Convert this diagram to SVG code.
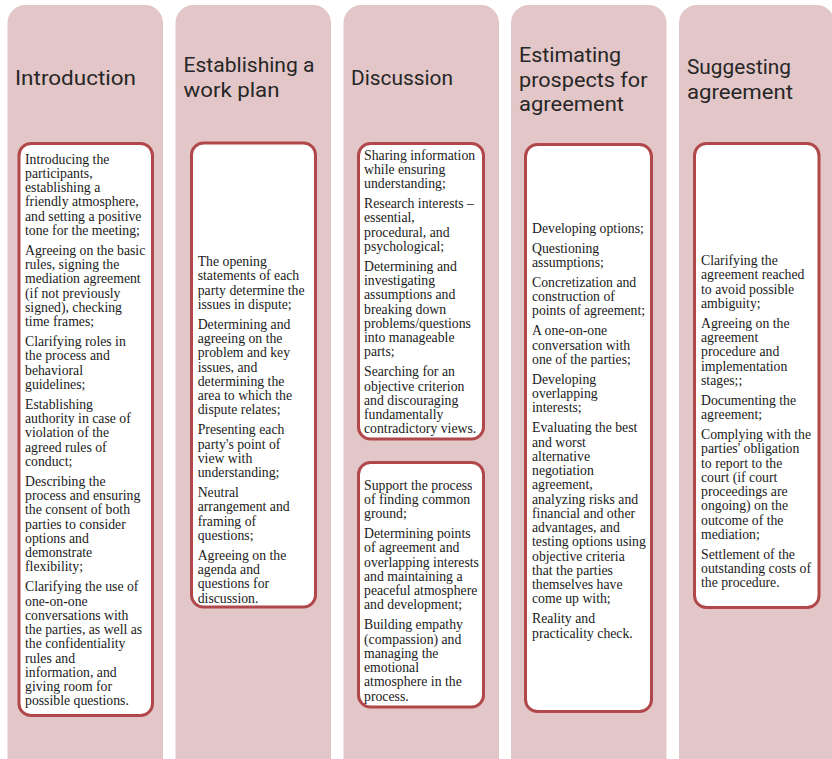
<svg xmlns="http://www.w3.org/2000/svg" width="832" height="759" viewBox="0 0 832 759">
<style>
.col{fill:#E3C6C7;}
.box{fill:#FFFFFF;stroke:#B0484B;stroke-width:3;}
.title{font-family:Roboto,"Liberation Sans",sans-serif;font-size:20.5px;fill:#262626;}
.body{font-family:"Liberation Serif","Times New Roman",serif;font-size:13.75px;fill:#1a1a1a;}
</style>
<rect x="0" y="0" width="832" height="759" fill="#FFFFFF"/>
<g id="col-introduction">
<rect class="col" x="7.5" y="5" width="155.5" height="775" rx="18"/>
<text class="title" x="15" y="85" textLength="121" lengthAdjust="spacingAndGlyphs">Introduction</text>
<rect class="box" x="19" y="143.5" width="133.5" height="572" rx="12"/>
<text class="body" x="25" y="163.5"><tspan x="25" dy="0">Introducing the</tspan><tspan x="25" dy="14.25">participants,</tspan><tspan x="25" dy="14.25">establishing a</tspan><tspan x="25" dy="14.25">friendly atmosphere,</tspan><tspan x="25" dy="14.25">and setting a positive</tspan><tspan x="25" dy="14.25">tone for the meeting;</tspan><tspan x="25" dy="20">Agreeing on the basic</tspan><tspan x="25" dy="14.25">rules, signing the</tspan><tspan x="25" dy="14.25">mediation agreement</tspan><tspan x="25" dy="14.25">(if not previously</tspan><tspan x="25" dy="14.25">signed), checking</tspan><tspan x="25" dy="14.25">time frames;</tspan><tspan x="25" dy="20">Clarifying roles in</tspan><tspan x="25" dy="14.25">the process and</tspan><tspan x="25" dy="14.25">behavioral</tspan><tspan x="25" dy="14.25">guidelines;</tspan><tspan x="25" dy="20">Establishing</tspan><tspan x="25" dy="14.25">authority in case of</tspan><tspan x="25" dy="14.25">violation of the</tspan><tspan x="25" dy="14.25">agreed rules of</tspan><tspan x="25" dy="14.25">conduct;</tspan><tspan x="25" dy="20">Describing the</tspan><tspan x="25" dy="14.25">process and ensuring</tspan><tspan x="25" dy="14.25">the consent of both</tspan><tspan x="25" dy="14.25">parties to consider</tspan><tspan x="25" dy="14.25">options and</tspan><tspan x="25" dy="14.25">demonstrate</tspan><tspan x="25" dy="14.25">flexibility;</tspan><tspan x="25" dy="20">Clarifying the use of</tspan><tspan x="25" dy="14.25">one-on-one</tspan><tspan x="25" dy="14.25">conversations with</tspan><tspan x="25" dy="14.25">the parties, as well as</tspan><tspan x="25" dy="14.25">the confidentiality</tspan><tspan x="25" dy="14.25">rules and</tspan><tspan x="25" dy="14.25">information, and</tspan><tspan x="25" dy="14.25">giving room for</tspan><tspan x="25" dy="14.25">possible questions.</tspan></text>
</g>
<g id="col-work-plan">
<rect class="col" x="175.5" y="5" width="155.5" height="775" rx="18"/>
<text class="title" x="183.5" y="72" textLength="131" lengthAdjust="spacingAndGlyphs">Establishing a</text>
<text class="title" x="183.5" y="97" textLength="96" lengthAdjust="spacingAndGlyphs">work plan</text>
<rect class="box" x="191.5" y="143" width="124" height="464" rx="12"/>
<text class="body" x="197.7" y="266"><tspan x="197.7" dy="0">The opening</tspan><tspan x="197.7" dy="14.25">statements of each</tspan><tspan x="197.7" dy="14.25">party determine the</tspan><tspan x="197.7" dy="14.25">issues in dispute;</tspan><tspan x="197.7" dy="20">Determining and</tspan><tspan x="197.7" dy="14.25">agreeing on the</tspan><tspan x="197.7" dy="14.25">problem and key</tspan><tspan x="197.7" dy="14.25">issues, and</tspan><tspan x="197.7" dy="14.25">determining the</tspan><tspan x="197.7" dy="14.25">area to which the</tspan><tspan x="197.7" dy="14.25">dispute relates;</tspan><tspan x="197.7" dy="20">Presenting each</tspan><tspan x="197.7" dy="14.25">party's point of</tspan><tspan x="197.7" dy="14.25">view with</tspan><tspan x="197.7" dy="14.25">understanding;</tspan><tspan x="197.7" dy="20">Neutral</tspan><tspan x="197.7" dy="14.25">arrangement and</tspan><tspan x="197.7" dy="14.25">framing of</tspan><tspan x="197.7" dy="14.25">questions;</tspan><tspan x="197.7" dy="20">Agreeing on the</tspan><tspan x="197.7" dy="14.25">agenda and</tspan><tspan x="197.7" dy="14.25">questions for</tspan><tspan x="197.7" dy="14.25">discussion.</tspan></text>
</g>
<g id="col-discussion">
<rect class="col" x="343.5" y="5" width="155.5" height="775" rx="18"/>
<text class="title" x="351" y="85" textLength="102" lengthAdjust="spacingAndGlyphs">Discussion</text>
<rect class="box" x="358.5" y="143.5" width="125" height="295.5" rx="12"/>
<text class="body" x="364" y="159.5"><tspan x="364" dy="0">Sharing information</tspan><tspan x="364" dy="14.25">while ensuring</tspan><tspan x="364" dy="14.25">understanding;</tspan><tspan x="364" dy="20">Research interests –</tspan><tspan x="364" dy="14.25">essential,</tspan><tspan x="364" dy="14.25">procedural, and</tspan><tspan x="364" dy="14.25">psychological;</tspan><tspan x="364" dy="20">Determining and</tspan><tspan x="364" dy="14.25">investigating</tspan><tspan x="364" dy="14.25">assumptions and</tspan><tspan x="364" dy="14.25">breaking down</tspan><tspan x="364" dy="14.25">problems/questions</tspan><tspan x="364" dy="14.25">into manageable</tspan><tspan x="364" dy="14.25">parts;</tspan><tspan x="364" dy="20">Searching for an</tspan><tspan x="364" dy="14.25">objective criterion</tspan><tspan x="364" dy="14.25">and discouraging</tspan><tspan x="364" dy="14.25">fundamentally</tspan><tspan x="364" dy="14.25">contradictory views.</tspan></text>
<rect class="box" x="358.5" y="462.5" width="125" height="244.5" rx="12"/>
<text class="body" x="364" y="489.5"><tspan x="364" dy="0">Support the process</tspan><tspan x="364" dy="14.25">of finding common</tspan><tspan x="364" dy="14.25">ground;</tspan><tspan x="364" dy="20">Determining points</tspan><tspan x="364" dy="14.25">of agreement and</tspan><tspan x="364" dy="14.25">overlapping interests</tspan><tspan x="364" dy="14.25">and maintaining a</tspan><tspan x="364" dy="14.25">peaceful atmosphere</tspan><tspan x="364" dy="14.25">and development;</tspan><tspan x="364" dy="20">Building empathy</tspan><tspan x="364" dy="14.25">(compassion) and</tspan><tspan x="364" dy="14.25">managing the</tspan><tspan x="364" dy="14.25">emotional</tspan><tspan x="364" dy="14.25">atmosphere in the</tspan><tspan x="364" dy="14.25">process.</tspan></text>
</g>
<g id="col-prospects">
<rect class="col" x="511" y="5" width="155.5" height="775" rx="18"/>
<text class="title" x="519" y="61.5" textLength="102" lengthAdjust="spacingAndGlyphs">Estimating</text>
<text class="title" x="519" y="86.5" textLength="128.5" lengthAdjust="spacingAndGlyphs">prospects for</text>
<text class="title" x="519" y="111" textLength="105" lengthAdjust="spacingAndGlyphs">agreement</text>
<rect class="box" x="525.5" y="144.5" width="126" height="567" rx="12"/>
<text class="body" x="532" y="232.5"><tspan x="532" dy="0">Developing options;</tspan><tspan x="532" dy="20">Questioning</tspan><tspan x="532" dy="14.25">assumptions;</tspan><tspan x="532" dy="20">Concretization and</tspan><tspan x="532" dy="14.25">construction of</tspan><tspan x="532" dy="14.25">points of agreement;</tspan><tspan x="532" dy="20">A one-on-one</tspan><tspan x="532" dy="14.25">conversation with</tspan><tspan x="532" dy="14.25">one of the parties;</tspan><tspan x="532" dy="20">Developing</tspan><tspan x="532" dy="14.25">overlapping</tspan><tspan x="532" dy="14.25">interests;</tspan><tspan x="532" dy="20">Evaluating the best</tspan><tspan x="532" dy="14.25">and worst</tspan><tspan x="532" dy="14.25">alternative</tspan><tspan x="532" dy="14.25">negotiation</tspan><tspan x="532" dy="14.25">agreement,</tspan><tspan x="532" dy="14.25">analyzing risks and</tspan><tspan x="532" dy="14.25">financial and other</tspan><tspan x="532" dy="14.25">advantages, and</tspan><tspan x="532" dy="14.25">testing options using</tspan><tspan x="532" dy="14.25">objective criteria</tspan><tspan x="532" dy="14.25">that the parties</tspan><tspan x="532" dy="14.25">themselves have</tspan><tspan x="532" dy="14.25">come up with;</tspan><tspan x="532" dy="20">Reality and</tspan><tspan x="532" dy="14.25">practicality check.</tspan></text>
</g>
<g id="col-suggesting">
<rect class="col" x="679" y="5" width="155.5" height="775" rx="18"/>
<text class="title" x="687" y="74" textLength="104" lengthAdjust="spacingAndGlyphs">Suggesting</text>
<text class="title" x="687" y="98.5" textLength="106" lengthAdjust="spacingAndGlyphs">agreement</text>
<rect class="box" x="694.5" y="143.5" width="124.5" height="464" rx="12"/>
<text class="body" x="701" y="265"><tspan x="701" dy="0">Clarifying the</tspan><tspan x="701" dy="14.25">agreement reached</tspan><tspan x="701" dy="14.25">to avoid possible</tspan><tspan x="701" dy="14.25">ambiguity;</tspan><tspan x="701" dy="20">Agreeing on the</tspan><tspan x="701" dy="14.25">agreement</tspan><tspan x="701" dy="14.25">procedure and</tspan><tspan x="701" dy="14.25">implementation</tspan><tspan x="701" dy="14.25">stages;;</tspan><tspan x="701" dy="20">Documenting the</tspan><tspan x="701" dy="14.25">agreement;</tspan><tspan x="701" dy="20">Complying with the</tspan><tspan x="701" dy="14.25">parties' obligation</tspan><tspan x="701" dy="14.25">to report to the</tspan><tspan x="701" dy="14.25">court (if court</tspan><tspan x="701" dy="14.25">proceedings are</tspan><tspan x="701" dy="14.25">ongoing) on the</tspan><tspan x="701" dy="14.25">outcome of the</tspan><tspan x="701" dy="14.25">mediation;</tspan><tspan x="701" dy="20">Settlement of the</tspan><tspan x="701" dy="14.25">outstanding costs of</tspan><tspan x="701" dy="14.25">the procedure.</tspan></text>
</g>
<g id="connectors"></g>
</svg>
